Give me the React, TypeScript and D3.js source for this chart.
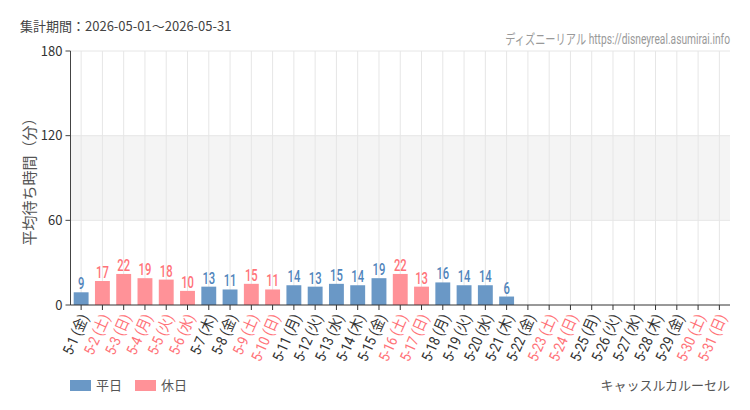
import * as d3 from 'd3'

const W = 750, H = 410
const M = { top: 51, right: 20, bottom: 105, left: 70.5 }

const DAYS = ['5-1','5-2','5-3','5-4','5-5','5-6','5-7','5-8','5-9','5-10','5-11','5-12','5-13','5-14','5-15','5-16','5-17','5-18','5-19','5-20','5-21','5-22','5-23','5-24','5-25','5-26','5-27','5-28','5-29','5-30','5-31']
const WEEKDAYS = ['金','土','日','月','火','水','木','金','土','日','月','火','水','木','金','土','日','月','火','水','木','金','土','日','月','火','水','木','金','土','日']
const HOLIDAY = [0,1,1,1,1,1,0,0,1,1,0,0,0,0,0,1,1,0,0,0,0,0,1,1,0,0,0,0,0,1,1]
const WAIT: (number | null)[] = [9,17,22,19,18,10,13,11,15,11,14,13,15,14,19,22,13,16,14,14,6,null,null,null,null,null,null,null,null,null,null]
const Y_TICKS = [0, 60, 120, 180]

const BLUE = '#6a98c6', PINK = '#ff9298'
const BLUE_TXT = '#4f84bb', PINK_TXT = '#ff7278'
const COND = 'Roboto, "Noto Sans CJK JP", sans-serif'
const JP = '"Noto Sans CJK JP", "Noto Sans", sans-serif'

export default function App() {
  const iw = W - M.left - M.right
  const ih = H - M.top - M.bottom

  const x = d3.scaleBand<number>().domain(d3.range(DAYS.length)).range([0, iw]).paddingInner(0.3).paddingOuter(0.15)
  const y = d3.scaleLinear().domain([0, 180]).range([ih, 0])
  const cx = (i: number) => x(i)! + x.bandwidth() / 2

  return (
    <svg width={W} height={H} style={{ position: 'absolute', left: 0, top: 0, background: '#fff' }}>
      <text x={20} y={31} fontFamily={JP} fontSize={13} fill="#444">集計期間：2026-05-01～2026-05-31</text>
      <text transform="translate(730,44) scale(0.73,1)" textAnchor="end" fontFamily={COND} fontSize={14} fill="#999">ディズニーリアル https://disneyreal.asumirai.info</text>

      <g transform={`translate(${M.left},${M.top})`}>
        {/* shaded band 60–120 */}
        <rect x={0} y={y(120)} width={iw} height={y(60) - y(120)} fill="#f4f4f4" />
        {Y_TICKS.filter(t => t > 0).map(t => (
          <line key={t} x1={0} x2={iw} y1={y(t)} y2={y(t)} stroke="#e6e6e6" />
        ))}
        {DAYS.map((_, i) => (
          <line key={i} x1={cx(i)} x2={cx(i)} y1={0} y2={ih} stroke="#e6e6e6" />
        ))}

        {/* bars */}
        {WAIT.map((v, i) => v == null ? null : (
          <g key={i}>
            <rect x={x(i)} y={y(v)} width={x.bandwidth()} height={ih - y(v)} fill={HOLIDAY[i] ? PINK : BLUE} />
            <text transform={`translate(${cx(i)},${y(v) - 3}) scale(0.66,1)`} textAnchor="middle" fontFamily={COND} fontSize={17} fontWeight={500}
              fill={HOLIDAY[i] ? PINK_TXT : BLUE_TXT}>{v}</text>
          </g>
        ))}

        {/* y axis */}
        <line x1={0} x2={0} y1={0} y2={ih} stroke="#444" />
        {Y_TICKS.map(t => (
          <g key={t} transform={`translate(0,${y(t)})`}>
            <line x1={-5} x2={0} stroke="#444" />
            <text x={-8} dy="0.35em" textAnchor="end" fontFamily={JP} fontSize={13} fill="#333">{t}</text>
          </g>
        ))}
        <text transform={`translate(-36,${ih / 2}) rotate(-90)`} textAnchor="middle" fontFamily={JP} fontSize={15} fill="#555">平均待ち時間（分）</text>

        {/* x axis */}
        <line x1={0} x2={iw} y1={ih} y2={ih} stroke="#333" />
        {DAYS.map((d, i) => (
          <g key={d} transform={`translate(${cx(i)},${ih})`}>
            <line y1={0} y2={5} stroke="#333" />
            <text transform="translate(3,10) rotate(-66) scale(0.85,1)" textAnchor="end" dy="0.35em" fontFamily={COND} fontSize={15}
              fill={HOLIDAY[i] ? PINK_TXT : '#333'}>{`${d} (${WEEKDAYS[i]})`}</text>
          </g>
        ))}
      </g>

      {/* legend */}
      <rect x={70} y={380} width={21} height={11} fill={BLUE} />
      <text x={96} y={390} fontFamily={JP} fontSize={13} fill="#555">平日</text>
      <rect x={135} y={380} width={21} height={11} fill={PINK} />
      <text x={161} y={390} fontFamily={JP} fontSize={13} fill="#555">休日</text>
      <text x={730} y={390} textAnchor="end" fontFamily={JP} fontSize={13} fill="#555">キャッスルカルーセル</text>
    </svg>
  )
}
